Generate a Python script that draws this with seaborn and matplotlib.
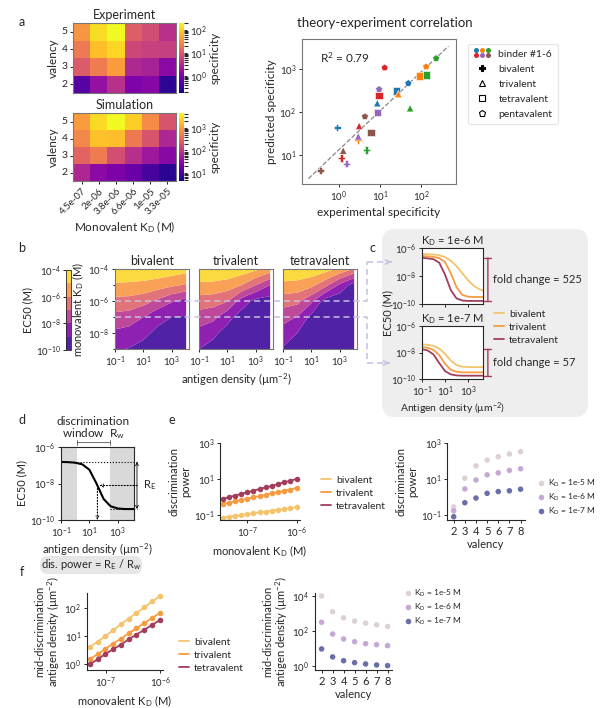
import matplotlib
matplotlib.use("Agg")
import matplotlib.pyplot as plt
import matplotlib.ticker as mticker
from matplotlib.colors import LogNorm, ListedColormap
from matplotlib.lines import Line2D
from matplotlib.patches import FancyBboxPatch
from matplotlib.legend_handler import HandlerBase
import numpy as np
import pandas as pd
import seaborn as sns

# ---------------- data ----------------
# a: heatmaps (rows = valency 5..2, columns = monovalent KD)
KD_LABELS = ["4.5e-07", "2e-06", "3.8e-06", "6.6e-06", "1e-05", "3.3e-05"]
VALENCY_ROWS = [5, 4, 3, 2]
SPEC_EXP = [[35, 123, 200, 10.5, 6.9, 3.5],
            [20, 75, 115, 6.0, 5.2, 5.0],
            [9.8, 21, 40, 2.8, 2.4, 1.3],
            [0.52, 1.6, 3.5, 1.05, 1.2, 0.26]]
SPEC_SIM = [[910, 2750, 4500, 2240, 650, 200],
            [600, 1800, 1700, 450, 200, 66],
            [280, 490, 174, 81, 47, 31],
            [66, 33, 25, 18, 10, 6.3]]

# a: theory-experiment scatter
SC_BINDER = [1, 1, 1, 1, 2, 2, 2, 2, 3, 3, 3, 3, 4, 4, 4, 4, 5, 5, 5, 5, 6, 6, 6, 6]
SC_VALENCY = ["bivalent", "trivalent", "tetravalent", "pentavalent"] * 6
SC_EXP = [0.91, 8.6, 25.6, 49, 2.9, 28, 91, 133, 4.7, 54, 138, 233,
          1.16, 3.1, 9.5, 13, 1.54, 2.96, 8.6, 9.5, 0.36, 1.27, 6.0, 4.3]
SC_PRED = [43, 160, 306, 465, 22, 260, 690, 1130, 13, 122, 730, 1770,
           8.4, 47, 243, 1070, 6.2, 27, 96, 336, 4.3, 12.6, 33, 78]
BINDER_COLORS = {1: "#1f77b4", 2: "#ff7f0e", 3: "#2ca02c", 4: "#d62728", 5: "#9467bd", 6: "#8c564b"}
VALENCY_MARKERS = {"bivalent": "P", "trivalent": "^", "tetravalent": "s", "pentavalent": "p"}

# b: log10 EC50 grid (rows = log10 KD -9..-4, columns = log10 antigen density -1..4)
LOG_DENSITY_GRID = [-1, 0, 1, 2, 3, 4]
LOG_KD_GRID = [-9, -8, -7, -6, -5, -4]
LOG_EC50_GRID = {
    "bivalent": [[-8.85, -9.05, -9.2, -9.35, -9.4, -9.4],
                 [-8.2, -8.4, -8.85, -9.15, -9.25, -9.25],
                 [-7.3, -7.45, -8.0, -8.8, -9.0, -9.05],
                 [-6.3, -6.35, -6.6, -7.2, -7.9, -8.4],
                 [-5.15, -5.2, -5.3, -5.5, -5.8, -6.1],
                 [-4.1, -4.1, -4.15, -4.25, -4.4, -4.6]],
    "trivalent": [[-9.0, -9.3, -9.55, -9.6, -9.6, -9.6],
                  [-8.35, -8.8, -9.35, -9.55, -9.55, -9.55],
                  [-7.45, -7.7, -8.7, -9.4, -9.5, -9.5],
                  [-6.45, -6.55, -6.95, -8.5, -9.3, -9.45],
                  [-5.2, -5.25, -5.45, -6.0, -7.0, -8.0],
                  [-4.12, -4.12, -4.2, -4.4, -4.8, -5.4]],
    "tetravalent": [[-9.1, -9.5, -9.8, -9.85, -9.85, -9.85],
                    [-8.45, -9.0, -9.6, -9.8, -9.8, -9.8],
                    [-7.6, -8.05, -9.3, -9.7, -9.75, -9.75],
                    [-6.55, -6.7, -7.8, -9.5, -9.75, -9.8],
                    [-5.25, -5.35, -5.7, -6.7, -8.2, -9.5],
                    [-4.15, -4.15, -4.3, -4.6, -5.2, -6.1]],
}
EC50_LEVELS = [-10, -9, -8, -7, -6, -5, -4]

# c, d: EC50 vs antigen density curves
VAL_NAMES = ["bivalent", "trivalent", "tetravalent"]
VAL_COLORS = {"bivalent": "#f3c46b", "trivalent": "#f59b40", "tetravalent": "#a23e5b"}
DENSITY = [0.1, 0.316, 1, 3.16, 10, 31.6, 100, 316, 1000, 3160, 10000, 31600]
LOG_EC50_KD6 = {
    "bivalent": [-6.43, -6.44, -6.46, -6.52, -6.65, -6.9, -7.3, -7.8, -8.3, -8.7, -8.95, -9.1],
    "trivalent": [-6.58, -6.6, -6.63, -6.72, -7.0, -7.8, -8.8, -9.35, -9.48, -9.5, -9.5, -9.5],
    "tetravalent": [-6.7, -6.74, -6.8, -7.05, -7.9, -9.0, -9.6, -9.75, -9.78, -9.78, -9.78, -9.78],
}
LOG_EC50_KD7 = {
    "bivalent": [-7.38, -7.42, -7.5, -7.7, -8.1, -8.6, -8.95, -9.07, -9.1, -9.1, -9.1, -9.1],
    "trivalent": [-7.58, -7.65, -7.8, -8.2, -8.85, -9.3, -9.45, -9.5, -9.5, -9.5, -9.5, -9.5],
    "tetravalent": [-7.75, -7.85, -8.15, -8.8, -9.4, -9.65, -9.73, -9.75, -9.75, -9.75, -9.75, -9.75],
}
FOLD_CHANGE = ["fold change = 525", "fold change = 57"]
LOG_EC50_D = [-6.82, -6.83, -6.86, -6.95, -7.25, -8.0, -8.85, -9.25, -9.37, -9.4, -9.4, -9.4]
WINDOW = (1.4, 270)

# e, f: versus monovalent KD
KD_E = [3.2e-8, 4.2e-8, 5.6e-8, 7.5e-8, 1.0e-7, 1.3e-7, 1.8e-7, 2.4e-7, 3.2e-7, 4.2e-7, 5.6e-7, 7.5e-7, 1.0e-6]
DISC_POWER = {
    "bivalent": [0.071, 0.079, 0.089, 0.099, 0.111, 0.124, 0.139, 0.155, 0.174, 0.194, 0.217, 0.243, 0.275],
    "trivalent": [0.41, 0.48, 0.57, 0.67, 0.80, 0.95, 1.12, 1.33, 1.57, 1.86, 2.2, 2.6, 3.2],
    "tetravalent": [0.78, 0.96, 1.19, 1.47, 1.81, 2.2, 2.8, 3.4, 4.2, 5.2, 6.5, 8.0, 10.0],
}
KD_F = [5.0e-8, 7.0e-8, 9.7e-8, 1.35e-7, 1.9e-7, 2.6e-7, 3.6e-7, 5.1e-7, 7.1e-7, 1.0e-6]
MID_DENSITY = {
    "bivalent": [4.0, 6.3, 10, 16, 26, 41, 65, 102, 166, 263],
    "trivalent": [1.5, 2.3, 3.5, 5.4, 8.1, 12.3, 18.6, 28.8, 43.6, 66],
    "tetravalent": [1.0, 1.5, 2.3, 3.4, 5.0, 7.6, 11.2, 16.6, 25, 37],
}

# e, f: versus valency
VALENCY = [2, 3, 4, 5, 6, 7, 8]
KD_NAMES = ["1e-5", "1e-6", "1e-7"]
KD_COLORS = {"1e-5": "#ddd1d5", "1e-6": "#c5a9d4", "1e-7": "#6a6ea9"}
DISC_POWER_VAL = {
    "1e-5": [0.28, 11, 53, 112, 173, 245, 330],
    "1e-6": [0.17, 2.8, 8.8, 17, 22, 30, 37],
    "1e-7": [0.08, 0.48, 0.87, 1.6, 2.0, 2.2, 2.7],
}
MID_DENSITY_VAL = {
    "1e-5": [10000, 1250, 570, 370, 280, 225, 180],
    "1e-6": [316, 67, 35, 24.5, 18.7, 16.5, 14.5],
    "1e-7": [9.4, 3.3, 2.0, 1.55, 1.3, 1.14, 1.05],
}

# ---------------- style ----------------
sns.set_theme(style="ticks", context="paper")
plt.rcParams["font.family"] = ["Lato", "DejaVu Sans"]
plt.rcParams["mathtext.fontset"] = "custom"
plt.rcParams["mathtext.rm"] = "Lato"
plt.rcParams["mathtext.it"] = "Lato:italic"
plt.rcParams["mathtext.bf"] = "Lato:bold"
plt.rcParams.update({
    "font.size": 7.5, "axes.labelsize": 8, "xtick.labelsize": 7, "ytick.labelsize": 7,
    "axes.linewidth": 0.8, "xtick.major.size": 2.5, "ytick.major.size": 2.5,
    "xtick.major.width": 0.7, "ytick.major.width": 0.7, "axes.labelpad": 2,
    "xtick.major.pad": 1.5, "ytick.major.pad": 1.5, "legend.fontsize": 7.5,
})

W, H = 602, 708
fig = plt.figure(figsize=(W / 100, H / 100), dpi=100)


def add_ax(x0, y0, x1, y1):
    return fig.add_axes([x0 / W, 1 - y1 / H, (x1 - x0) / W, (y1 - y0) / H])


def ftext(x, y, s, **kw):
    kw.setdefault("ha", "center")
    kw.setdefault("va", "center")
    return fig.text(x / W, 1 - y / H, s, **kw)


def fig_pt(ax, x, y):
    return fig.transFigure.inverted().transform(ax.transData.transform((x, y)))


def log_ticks(ax, axis, values):
    a = ax.xaxis if axis == "x" else ax.yaxis
    a.set_major_locator(mticker.FixedLocator(values))
    a.set_major_formatter(mticker.LogFormatterSciNotation())
    a.set_minor_locator(mticker.NullLocator())


pow_fmt = mticker.FuncFormatter(lambda v, p: f"$10^{{{int(round(v))}}}$")
KD_TXT = r"K$_\mathrm{D}$"

for lab, (x, y) in zip("abcdef", [(22, 22), (22, 248), (372, 248), (22, 420), (172, 420), (22, 572)]):
    ftext(x, y, lab, fontsize=9)

# ---------------- a: heatmaps ----------------
for data, (y0, y1), title, vmin, vmax, show_x in [
        (SPEC_EXP, (23, 93), "Experiment", 0.18, 200, False),
        (SPEC_SIM, (113, 181), "Simulation", 4.5, 4500, True)]:
    ax = add_ax(73, y0, 176, y1)
    cax = add_ax(179, y0, 184, y1)
    df = pd.DataFrame(data, index=VALENCY_ROWS, columns=KD_LABELS)
    sns.heatmap(df, ax=ax, cbar_ax=cax, cmap="plasma", norm=LogNorm(vmin=vmin, vmax=vmax),
                cbar_kws={"label": "specificity"})
    for sp in ax.spines.values():
        sp.set_visible(True)
        sp.set_color("#777777")
    ax.set_title(title, fontsize=9, pad=3)
    ax.set_ylabel("valency", fontsize=8.5)
    ax.tick_params(axis="y", rotation=0, labelsize=7.5)
    if show_x:
        ax.set_xticklabels(KD_LABELS, rotation=45, ha="right", rotation_mode="anchor", fontsize=7)
        ax.set_xlabel("Monovalent " + KD_TXT + " (M)", fontsize=8.5)
    else:
        ax.set_xticks([])
    cax.tick_params(labelsize=7)
    cax.yaxis.label.set_size(8.5)

# ---------------- a: scatter ----------------
sc_df = pd.DataFrame({"binder": SC_BINDER, "valency": SC_VALENCY, "exp": SC_EXP, "pred": SC_PRED})
ax_sc = add_ax(302, 39, 456, 184)
sns.scatterplot(data=sc_df, x="exp", y="pred", hue="binder", style="valency", palette=BINDER_COLORS,
                markers=VALENCY_MARKERS, s=28, edgecolor="white", linewidth=0.4, ax=ax_sc,
                legend=False, zorder=3)
slope, icpt = np.polyfit(np.log10(sc_df["exp"]), np.log10(sc_df["pred"]), 1)
fx = np.array([sc_df["exp"].min() / 2, sc_df["exp"].max() * 2])
ax_sc.plot(fx, 10 ** (icpt + slope * np.log10(fx)), ls="--", color="#888888", lw=0.9, zorder=1)
ax_sc.set_xscale("log")
ax_sc.set_yscale("log")
ax_sc.set_xlim(0.126, 710)
ax_sc.set_ylim(2.1, 5000)
log_ticks(ax_sc, "x", [1, 10, 100])
log_ticks(ax_sc, "y", [10, 100, 1000])
for sp in ax_sc.spines.values():
    sp.set_color("#777777")
ax_sc.set_xlabel("experimental specificity", fontsize=8.5)
ax_sc.set_ylabel("predicted specificity", fontsize=8.5)
ax_sc.text(0.12, 0.87, "R$^2$ = 0.79", transform=ax_sc.transAxes, fontsize=8.5, va="center")
ftext(297, 23, "theory-experiment correlation", ha="left", fontsize=9.5)


class DotGrid(HandlerBase):
    def __init__(self, colors):
        super().__init__()
        self.colors = colors

    def create_artists(self, legend, orig_handle, xdescent, ydescent, width, height, fontsize, trans):
        arts = []
        for i, c in enumerate(self.colors):
            r, col = divmod(i, 3)
            x = -xdescent + width * (0.15 + 0.35 * col)
            y = -ydescent + height * (0.95 - 0.75 * r)
            arts.append(Line2D([x], [y], marker="o", ms=2.6, color=c, ls="", transform=trans))
        return arts


grid_handle = Line2D([], [])
sc_handles = [grid_handle] + [
    Line2D([], [], marker=VALENCY_MARKERS[v], ls="", ms=5,
           markerfacecolor="black" if v == "bivalent" else "none", markeredgecolor="black", markeredgewidth=0.8)
    for v in ["bivalent", "trivalent", "tetravalent", "pentavalent"]]
ax_sc.legend(sc_handles, ["binder #1-6", "bivalent", "trivalent", "tetravalent", "pentavalent"],
             handler_map={grid_handle: DotGrid(list(BINDER_COLORS.values()))},
             loc="upper left", bbox_to_anchor=(463 / W, 1 - 39 / H), bbox_transform=fig.transFigure,
             frameon=True, edgecolor="#dddddd", fancybox=True, fontsize=7.5, handlelength=1.6,
             labelspacing=0.55, borderpad=0.5)

# ---------------- b: contour maps ----------------
# plasma sampled at the band midpoints, lightened slightly as in the original
band_t = (np.arange(len(EC50_LEVELS) - 1) + 0.5) / (len(EC50_LEVELS) - 1)
band_rgb = plt.get_cmap("plasma")(band_t)[:, :3] * 0.88 + 0.12
band_cmap = ListedColormap(band_rgb)

b_axes = []
for i, (val, x0) in enumerate(zip(VAL_NAMES, [115, 199, 283])):
    ax = add_ax(x0, 269, x0 + 74, 349)
    cs = ax.contourf(LOG_DENSITY_GRID, LOG_KD_GRID, LOG_EC50_GRID[val], levels=EC50_LEVELS,
                     cmap=band_cmap, antialiased=True)
    ax.set_xlim(-1, 4.2)
    ax.set_ylim(-9, -4)
    ax.set_xticks([-1, 1, 3])
    ax.xaxis.set_major_formatter(pow_fmt)
    ax.set_yticks([-8, -6, -4])
    ax.set_yticks([-9, -7, -5], minor=True)
    ax.tick_params(axis="y", which="minor", length=1.5)
    if i == 0:
        ax.yaxis.set_major_formatter(pow_fmt)
        ax.set_ylabel("monovalent " + KD_TXT + " (M)", fontsize=8)
    else:
        ax.set_yticklabels([])
        ax.tick_params(axis="y", which="both", length=0)
    if i == 1:
        ax.set_xlabel("antigen density (µm$^{-2}$)", fontsize=8)
    for sp in ax.spines.values():
        sp.set_color("#777777")
    ax.set_title(val, fontsize=9, pad=3)
    b_axes.append(ax)

cax_b = add_ax(66, 270, 71, 350)
cb = fig.colorbar(cs, cax=cax_b, ticks=[-10, -8, -6, -4], format=pow_fmt)
cb.outline.set_linewidth(0.6)
cax_b.yaxis.set_ticks_position("left")
cax_b.yaxis.set_label_position("left")
cb.set_label("EC50 (M)", fontsize=8)
cax_b.tick_params(labelsize=7, length=2)

# dashed connectors from KD = 1e-6 / 1e-7 rows to panel c
LAV = "#c7bfe0"
for kd_log, y_target, x_end in [(-6, 262, 394), (-7, 363, 392)]:
    fx0, fy = fig_pt(b_axes[0], -1, kd_log)
    xt = 367 / W
    yt = 1 - y_target / H
    fig.add_artist(Line2D([fx0, xt, xt], [fy, fy, yt], transform=fig.transFigure,
                          color=LAV, lw=1.1, ls=(0, (4, 2.5))))
    fig.add_artist(Line2D([xt, x_end / W - 0.004], [yt, yt], transform=fig.transFigure,
                          color=LAV, lw=1.1, ls=(0, (4, 2.5))))
    b_axes[0].annotate("", xy=(x_end / W, yt), xytext=(x_end / W - 0.012, yt),
                       xycoords="figure fraction", textcoords="figure fraction",
                       arrowprops=dict(arrowstyle="->", color=LAV, lw=1.1))

# ---------------- c: EC50 curves ----------------
fig.add_artist(FancyBboxPatch((382 / W, 1 - 417 / H), 206 / W, 188 / H,
                              boxstyle="round,pad=0,rounding_size=0.02", transform=fig.transFigure,
                              facecolor="#eeeeee", edgecolor="none", zorder=-1))
for curves, (y0, y1), title, fc in [(LOG_EC50_KD6, (248, 304), KD_TXT + " = 1e-6 M", FOLD_CHANGE[0]),
                                    (LOG_EC50_KD7, (326, 379), KD_TXT + " = 1e-7 M", FOLD_CHANGE[1])]:
    ax = add_ax(422, y0, 483, y1)
    c_df = pd.DataFrame([(d, 10 ** v, val) for val in VAL_NAMES for d, v in zip(DENSITY, curves[val])],
                        columns=["density", "ec50", "valency"])
    sns.lineplot(data=c_df, x="density", y="ec50", hue="valency", palette=VAL_COLORS, ax=ax,
                 legend=False, lw=1.3)
    ax.set_xscale("log")
    ax.set_yscale("log")
    ax.set_xlim(0.1, 2e4)
    ax.set_ylim(1e-10, 1e-6)
    log_ticks(ax, "x", [0.1, 10, 1000])
    log_ticks(ax, "y", [1e-10, 1e-8, 1e-6])
    ax.set_xlabel("")
    ax.set_ylabel("")
    ax.set_title(title, fontsize=8, pad=2)
    top, bot = 10 ** max(curves["tetravalent"]), 10 ** min(curves["tetravalent"])
    ax.annotate("", xy=(1.08, bot), xytext=(1.08, top), xycoords=("axes fraction", "data"),
                textcoords=("axes fraction", "data"), annotation_clip=False,
                arrowprops=dict(arrowstyle="|-|", color=VAL_COLORS["tetravalent"], lw=1.0,
                                shrinkA=0, shrinkB=0, mutation_scale=2.5))
    ax.text(1.16, np.sqrt(top * bot), fc, transform=ax.get_yaxis_transform(), fontsize=8,
            va="center", ha="left")
    if y0 > 300:
        ax.set_xticklabels(["$10^{-1}$", "$10^{1}$", "$10^{3}$"])
        ax.set_xlabel("Antigen density (µm$^{-2}$)", fontsize=7.5, labelpad=1)
    else:
        ax.set_xticklabels([])
ftext(388, 313, "EC50 (M)", rotation=90, fontsize=8)
fig.legend([Line2D([], [], color=VAL_COLORS[v], lw=1.3) for v in VAL_NAMES], VAL_NAMES,
           loc="upper left", bbox_to_anchor=(485 / W, 1 - 300 / H), frameon=False,
           handlelength=0.9, handletextpad=0.5, labelspacing=0.35, fontsize=7.5)

# ---------------- d: discrimination window schematic ----------------
ax_d = add_ax(61, 447, 134, 520)
d_df = pd.DataFrame({"density": DENSITY, "ec50": [10 ** v for v in LOG_EC50_D]})
ax_d.axvspan(0.05, WINDOW[0], color="#d9d9d9", lw=0)
ax_d.axvspan(WINDOW[1], 1e5, color="#d9d9d9", lw=0)
sns.lineplot(data=d_df, x="density", y="ec50", color="black", lw=1.5, ax=ax_d)
ax_d.set_xscale("log")
ax_d.set_yscale("log")
ax_d.set_xlim(0.1, 10 ** 4.14)
ax_d.set_ylim(1e-10, 1e-6)
log_ticks(ax_d, "x", [0.1, 10, 1000])
log_ticks(ax_d, "y", [1e-10, 1e-8, 1e-6])
ax_d.set_xlabel("antigen density (µm$^{-2}$)", fontsize=8, labelpad=1)
ax_d.set_ylabel("EC50 (M)", fontsize=8)
hi, lo = 10 ** max(LOG_EC50_D), 10 ** min(LOG_EC50_D)
mid_log = (max(LOG_EC50_D) + min(LOG_EC50_D)) / 2
x_mid = 10 ** np.interp(-mid_log, [-v for v in LOG_EC50_D], np.log10(DENSITY))
x_br = 10 ** 4.35
ax_d.plot([WINDOW[0], x_br], [hi, hi], ls=":", color="black", lw=0.8, clip_on=False)
ax_d.plot([WINDOW[1], x_br], [lo, lo], ls=":", color="black", lw=0.8, clip_on=False)
ax_d.annotate("", xy=(x_br, lo), xytext=(x_br, hi), annotation_clip=False,
              arrowprops=dict(arrowstyle="<->", color="black", lw=0.6, shrinkA=0, shrinkB=0,
                              mutation_scale=5))
ax_d.text(10 ** 4.75, 10 ** mid_log, "R$_\\mathrm{E}$", fontsize=8, va="center", ha="left")
ax_d.annotate("", xy=(x_mid * 1.4, 10 ** mid_log), xytext=(x_br, 10 ** mid_log), annotation_clip=False,
              arrowprops=dict(arrowstyle="->", color="black", lw=0.8, ls=":", shrinkA=0, shrinkB=0,
                              mutation_scale=5))
ax_d.annotate("", xy=(x_mid, 1e-10), xytext=(x_mid, 10 ** mid_log), annotation_clip=False,
              arrowprops=dict(arrowstyle="->", color="black", lw=0.8, ls=":", shrinkA=0, shrinkB=0,
                              mutation_scale=5))
ax_d.annotate("", xy=(WINDOW[1], 1.06), xytext=(WINDOW[0], 1.06),
              xycoords=("data", "axes fraction"), textcoords=("data", "axes fraction"),
              annotation_clip=False,
              arrowprops=dict(arrowstyle="|-|", color="#555555", lw=0.6, shrinkA=0, shrinkB=0,
                              mutation_scale=2))
ftext(93, 421, "discrimination", fontsize=8.5)
ftext(93, 434, "window  R$_\\mathrm{w}$", fontsize=8.5)
fig.add_artist(FancyBboxPatch((40 / W, 1 - 574 / H), 102 / W, 18 / H,
                              boxstyle="round,pad=0,rounding_size=0.012", transform=fig.transFigure,
                              facecolor="#e6e6e6", edgecolor="none", zorder=-1))
ftext(91, 565, "dis. power = R$_\\mathrm{E}$ / R$_\\mathrm{w}$", fontsize=8)


# ---------------- e, f ----------------
def kd_panel(box, xs, series, xlim, ylim, yticks, ylabel, leg_at):
    ax = add_ax(*box)
    df = pd.DataFrame([(x, y, val) for val in VAL_NAMES for x, y in zip(xs, series[val])],
                      columns=["kd", "y", "valency"])
    sns.lineplot(data=df, x="kd", y="y", hue="valency", palette=VAL_COLORS, marker="o", ms=4,
                 mec="none", lw=1.3, ax=ax, legend=False)
    ax.set_xscale("log")
    ax.set_yscale("log")
    ax.set_xlim(*xlim)
    ax.set_ylim(*ylim)
    log_ticks(ax, "x", [1e-7, 1e-6])
    log_ticks(ax, "y", yticks)
    sns.despine(ax=ax)
    ax.set_xlabel("monovalent " + KD_TXT + " (M)", fontsize=8)
    ax.set_ylabel(ylabel, fontsize=8, linespacing=1.0)
    ax.legend([Line2D([], [], color=VAL_COLORS[v], lw=1.3) for v in VAL_NAMES], VAL_NAMES,
              loc="upper left", bbox_to_anchor=(leg_at[0] / W, 1 - leg_at[1] / H),
              bbox_transform=fig.transFigure, frameon=False, handlelength=0.9,
              handletextpad=0.5, labelspacing=0.35, fontsize=7.5)
    return ax


def valency_panel(box, series, ylim, yticks, ylabel, leg_at):
    ax = add_ax(*box)
    df = pd.DataFrame([(x, y, kd) for kd in KD_NAMES for x, y in zip(VALENCY, series[kd])],
                      columns=["valency", "y", "kd"])
    sns.scatterplot(data=df, x="valency", y="y", hue="kd", palette=KD_COLORS, s=16, linewidth=0,
                    ax=ax, legend=False)
    ax.set_yscale("log")
    ax.set_xlim(1.4, 8.4)
    ax.set_ylim(*ylim)
    ax.set_xticks(VALENCY)
    log_ticks(ax, "y", yticks)
    sns.despine(ax=ax)
    ax.tick_params(axis="x", labelsize=8)
    ax.set_xlabel("valency", fontsize=8)
    ax.set_ylabel(ylabel, fontsize=8, linespacing=1.0)
    ax.legend([Line2D([], [], marker="o", ls="", ms=4, color=KD_COLORS[k], mec="none") for k in KD_NAMES],
              [KD_TXT + f" = {k} M" for k in KD_NAMES],
              loc="upper left", bbox_to_anchor=(leg_at[0] / W, 1 - leg_at[1] / H),
              bbox_transform=fig.transFigure, frameon=False, handlelength=0.8,
              handletextpad=0.4, labelspacing=0.35, fontsize=6)
    return ax


kd_panel((220, 443, 300, 520), KD_E, DISC_POWER, (10 ** -7.55, 10 ** -5.93), (10 ** -1.28, 1e3),
         [0.1, 10, 1000], "discrimination\npower", (312, 466))
valency_panel((447, 443, 525, 520), DISC_POWER_VAL, (10 ** -1.28, 1e3), [0.1, 10, 1000],
              "discrimination\npower", (530, 470))
kd_panel((87, 593, 163, 670), KD_F, MID_DENSITY, (10 ** -7.35, 10 ** -5.95), (10 ** -0.2, 10 ** 2.52),
         [1, 10, 100], "mid-discrimination\nantigen density (µm$^{-2}$)", (170, 628))
valency_panel((315, 593, 392, 670), MID_DENSITY_VAL, (10 ** -0.23, 10 ** 4.17), [1, 100, 10000],
              "mid-discrimination\nantigen density (µm$^{-2}$)", (397, 580))

fig.savefig("out.png", dpi=100)
